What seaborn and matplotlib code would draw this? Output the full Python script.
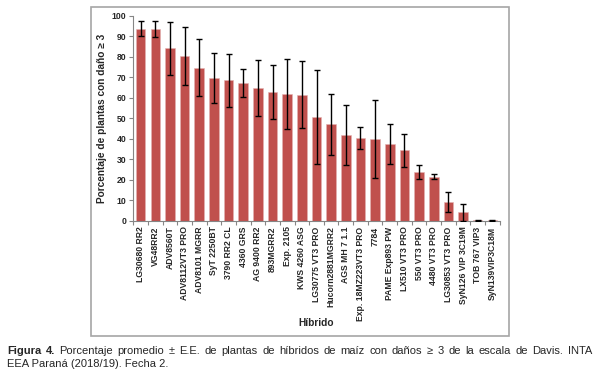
import pandas as pd
import matplotlib.pyplot as plt
import matplotlib.patches as mpatches
import seaborn as sns

# Data
hibridos = ["LG30680 RR2", "VG48RR2", "ADV8560T", "ADV8112VT3 PRO", "ADV8101 MGRR",
            "SyT 2250BT", "3790 RR2 CL", "4360 GRS", "AG 9400 RR2", "893MGRR2",
            "Exp. 2105", "KWS 4260 ASG", "LG30775 VT3 PRO", "Hucorn2881MGRR2",
            "AGS MH 7 1.1", "Exp. 18MZ223VT3 PRO", "7784", "PAME Exp893 PW",
            "LX510 VT3 PRO", "550 VT3 PRO", "4480 VT3 PRO", "LG30853 VT3 PRO",
            "SyN126 VIP 3C19M", "TOB 767 VIP3", "SyN139VIP3C18M"]
porcentaje = [93.7, 93.5, 84.1, 80.2, 74.6, 69.5, 68.5, 67.2, 64.7, 62.9,
              62.0, 61.6, 50.7, 47.0, 41.8, 40.3, 39.7, 37.4, 34.5, 23.8,
              21.5, 9.1, 4.1, 0.2, 0.2]
ee = [3.7, 3.9, 12.9, 14.1, 13.9, 12.2, 12.9, 6.7, 13.6, 13.3,
      17.0, 16.4, 23.0, 15.0, 14.5, 5.5, 19.0, 9.7, 8.0, 3.2,
      1.3, 4.8, 4.2, 0.2, 0.2]

caption_l1 = "Porcentaje promedio ± E.E. de plantas de híbridos de maíz con daños ≥ 3 de la escala de Davis. INTA"
caption_l2 = "EEA Paraná (2018/19). Fecha 2."

df = pd.DataFrame({"Hibrido": hibridos, "Porcentaje": porcentaje, "EE": ee})

sns.set_style("white")
plt.rcParams["font.family"] = ["Liberation Sans", "DejaVu Sans"]

BAR_RED = "#C0504D"
AXIS_GREY = "#868686"

fig = plt.figure(figsize=(6, 3.75), dpi=100)
W, H = 600, 375
ax = fig.add_axes([0.222, 0.411, 0.611, 0.547])

sns.barplot(data=df, x="Hibrido", y="Porcentaje", color=BAR_RED, saturation=1,
            width=0.64, errorbar=None, edgecolor="#E3B3B2", linewidth=0.4, ax=ax)
ax.errorbar(range(len(df)), df["Porcentaje"], yerr=df["EE"], fmt="none",
            ecolor="black", elinewidth=1, capsize=2.5, capthick=1, zorder=5)

ax.set_ylim(0, 100)
ax.set_xlim(-0.5, len(df) - 0.5)
ax.set_yticks(range(0, 101, 10))
ax.set_xticks(range(len(df)))
ax.set_xticklabels(hibridos, rotation=90, fontsize=6.2, fontweight="bold")
ax.set_xticks([i + 0.5 for i in range(-1, len(df))], minor=True)
ax.tick_params(axis="x", which="major", length=0, pad=4)
ax.tick_params(axis="x", which="minor", length=3, width=0.8, color=AXIS_GREY, direction="out", bottom=True)
ax.tick_params(axis="y", length=3, width=0.8, color=AXIS_GREY, direction="out", left=True, labelsize=6.2, pad=2)
for lab in ax.get_yticklabels():
    lab.set_fontweight("bold")

sns.despine(ax=ax)
for side in ["left", "bottom"]:
    ax.spines[side].set_color(AXIS_GREY)
    ax.spines[side].set_linewidth(0.8)

ax.set_ylabel("Porcentaje de plantas con daño ≥ 3", fontsize=7.3, fontweight="bold", labelpad=3)
ax.set_xlabel("Híbrido", fontsize=7.3, fontweight="bold", va="center")
# place x label at y = 323 px from the top
ax.xaxis.set_label_coords(0.5, -(323 - 220.7) / (0.547 * H))

# outer frame around the chart
frame = mpatches.Rectangle((91 / W, 1 - 335.5 / H), (509 - 91) / W, (335.5 - 6.7) / H,
                           transform=fig.transFigure, fill=False, edgecolor="#A6A6A6", linewidth=1.2)
fig.add_artist(frame)

# caption, first line justified between x=7 and x=592 px
y1 = 1 - 353.5 / H
words = [("Figura", "bold"), ("4.", "bold")] + [(w, "normal") for w in caption_l1.split(" ")]
texts = [fig.text(0, y1, w, fontsize=8, fontweight=fw, va="baseline") for w, fw in words]
fig.canvas.draw()
r = fig.canvas.get_renderer()
widths = [t.get_window_extent(r).width for t in texts]
gap = (585 - sum(widths)) / (len(texts) - 1)
x = 7.0
for t, w in zip(texts, widths):
    t.set_x(x / W)
    x += w + gap
fig.text(7 / W, 1 - 367 / H, caption_l2, fontsize=8, va="baseline")

fig.savefig("out.png", dpi=100)
